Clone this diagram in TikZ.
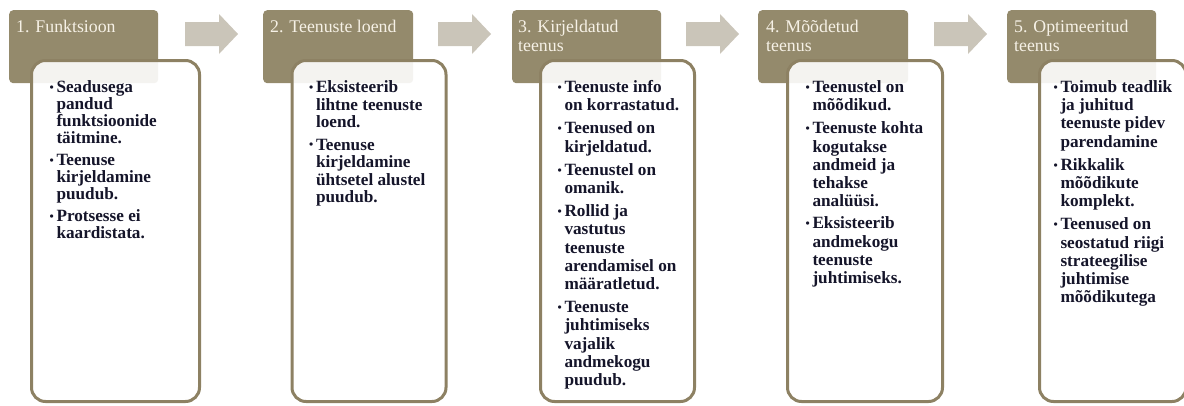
\documentclass[tikz,border=0pt]{standalone}
\usepackage{fontspec}
\setmainfont{Liberation Serif}
\definecolor{hdrfill}{HTML}{948A6C}
\definecolor{framecol}{HTML}{8D8163}
\definecolor{arrowcol}{HTML}{CAC5B9}
\definecolor{hdrtextcol}{HTML}{F6F1E6}
\definecolor{bodytextcol}{HTML}{15152A}

% small raised bullet for the item lists
\newcommand{\bul}{{\fontsize{12}{12}\selectfont\raisebox{1.2pt}{\textbullet}}}

\begin{document}
\begin{tikzpicture}[x=1pt,y=-1pt,
  header/.style={fill=hdrfill, rounded corners=4pt, anchor=north west,
    inner sep=0pt, minimum height=73pt},
  panelbox/.style={draw=framecol, line width=3pt, rounded corners=14pt,
    fill=white, fill opacity=0.9},
  title/.style={anchor=base west, inner sep=0pt, text=hdrtextcol,
    font=\fontsize{17.8}{19}\selectfont},
  items/.style={anchor=base west, inner sep=0pt, text=bodytextcol,
    font=\bfseries},
  flowarrow/.style={fill=arrowcol}
]
\useasboundingbox (0,0) rectangle (1184,405);

% block arrows between the stages
\foreach \a in {185,438,686,934}
  \fill[flowarrow] (\a,22) -- (\a+34,22) -- (\a+34,14) -- (\a+53,34)
    -- (\a+34,54) -- (\a+34,46) -- (\a,46) -- cycle;

% stage headers
\node[header, minimum width=149pt] (h1) at (9,10) {};
\node[header, minimum width=150pt] (h2) at (263,10) {};
\node[header, minimum width=149pt] (h3) at (512,10) {};
\node[header, minimum width=150pt] (h4) at (758,10) {};
\node[header, minimum width=149pt] (h5) at (1007,10) {};

% content frames, overlapping the headers
\draw[panelbox] (31.5,60.5) rectangle (199.5,401.5);
\draw[panelbox] (292,60.5) rectangle (446,401.5);
\draw[panelbox] (540.5,60.5) rectangle (694.5,401.5);
\draw[panelbox] (787.5,60.5) rectangle (942.5,401.5);
\draw[panelbox] (1039.5,60.5) rectangle (1186,401.5);

% header titles
\node[title] (t1) at (16,32.5) {\begin{tabular}[t]{@{}l@{}}1. Funktsioon\end{tabular}};
\node[title] (t2) at (270,32.5) {\begin{tabular}[t]{@{}l@{}}2. Teenuste loend\end{tabular}};
\node[title] (t3) at (518,32.5) {\begin{tabular}[t]{@{}l@{}}3. Kirjeldatud\\teenus\end{tabular}};
\node[title] (t4) at (766,32.5) {\begin{tabular}[t]{@{}l@{}}4. Mõõdetud\\teenus\end{tabular}};
\node[title] (t5) at (1014,32.5) {\begin{tabular}[t]{@{}l@{}}5. Optimeeritud\\teenus\end{tabular}};

% bullet lists
\node[items] (l1) at (49.5,92.5) {\fontsize{17.2}{16.8}\selectfont
\begin{tabular}[t]{@{}l@{\hspace{2.6pt}}l@{}}
\bul & Seadusega\\ & pandud\\ & funktsioonide\\ & täitmine.\\[5pt]
\bul & Teenuse\\ & kirjeldamine\\ & puudub.\\[5pt]
\bul & Protsesse ei\\ & kaardistata.
\end{tabular}};

\node[items] (l2) at (309,92.5) {\fontsize{17.2}{17.5}\selectfont
\begin{tabular}[t]{@{}l@{\hspace{2.6pt}}l@{}}
\bul & Eksisteerib\\ & lihtne teenuste\\ & loend.\\[5pt]
\bul & Teenuse\\ & kirjeldamine\\ & ühtsetel alustel\\ & puudub.
\end{tabular}};

\node[items] (l3) at (557.5,92.5) {\fontsize{17.2}{18.2}\selectfont
\begin{tabular}[t]{@{}l@{\hspace{2.6pt}}l@{}}
\bul & Teenuste info\\ & on korrastatud.\\[5pt]
\bul & Teenused on\\ & kirjeldatud.\\[5pt]
\bul & Teenustel on\\ & omanik.\\[5pt]
\bul & Rollid ja\\ & vastutus\\ & teenuste\\ & arendamisel on\\ & määratletud.\\[5pt]
\bul & Teenuste\\ & juhtimiseks\\ & vajalik\\ & andmekogu\\ & puudub.
\end{tabular}};

\node[items] (l4) at (805.5,92.5) {\fontsize{17.2}{18.2}\selectfont
\begin{tabular}[t]{@{}l@{\hspace{2.6pt}}l@{}}
\bul & Teenustel on\\ & mõõdikud.\\[5pt]
\bul & Teenuste kohta\\ & kogutakse\\ & andmeid ja\\ & tehakse\\ & analüüsi.\\[4pt]
\bul & Eksisteerib\\ & andmekogu\\ & teenuste\\ & juhtimiseks.
\end{tabular}};

\node[items] (l5) at (1053.5,92.5) {\fontsize{17.2}{18.2}\selectfont
\begin{tabular}[t]{@{}l@{\hspace{2.6pt}}l@{}}
\bul & Toimub teadlik\\ & ja juhitud\\ & teenuste pidev\\ & parendamine\\[5pt]
\bul & Rikkalik\\ & mõõdikute\\ & komplekt.\\[5pt]
\bul & Teenused on\\ & seostatud riigi\\ & strateegilise\\ & juhtimise\\ & mõõdikutega
\end{tabular}};
\end{tikzpicture}
\end{document}
